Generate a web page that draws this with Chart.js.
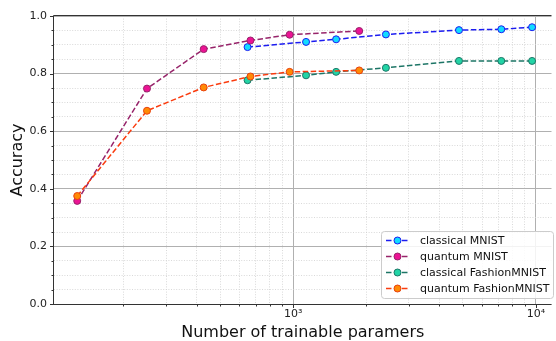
<!DOCTYPE html>
<html>
<head>
<meta charset="utf-8">
<script src="https://cdn.jsdelivr.net/npm/chart.js@4"></script>
<style>
  html, body { margin: 0; padding: 0; background: #fff; overflow: hidden; }
  canvas { display: block; }
</style>
</head>
<body>
<canvas id="accuracyChart" width="556" height="341"></canvas>
<script>
// values
const classicalParams = [649, 1130, 1503, 2410, 4820, 7200, 9640];
const classicalMnist = [0.892, 0.910, 0.919, 0.936, 0.951, 0.954, 0.961];
const classicalFashion = [0.777, 0.794, 0.806, 0.820, 0.844, 0.844, 0.844];

const quantumParams = [129, 250, 428, 667, 967, 1871];
const quantumMnist = [0.358, 0.748, 0.885, 0.915, 0.935, 0.948];
const quantumFashion = [0.375, 0.671, 0.752, 0.790, 0.806, 0.811];

const seriesNames = ['classical MNIST', 'quantum MNIST', 'classical FashionMNIST', 'quantum FashionMNIST'];

const xMajorTicks = [1000, 10000];
const xTickLabels = ['10³', '10⁴'];
const xMinorTicks = [200, 300, 400, 500, 600, 700, 800, 900, 2000, 3000, 4000, 5000, 6000, 7000, 8000, 9000];
const yMajorTicks = [0, 0.2, 0.4, 0.6, 0.8, 1.0];
const yTickLabels = ['0.0', '0.2', '0.4', '0.6', '0.8', '1.0'];
const yMinorTicks = [0.05, 0.1, 0.15, 0.25, 0.3, 0.35, 0.45, 0.5, 0.55, 0.65, 0.7, 0.75, 0.85, 0.9, 0.95];

const FONT = 'DejaVu Sans';
const DASH = [5.5, 2.5];

const isMajorX = v => xMajorTicks.some(t => Math.abs(t - v) < 1e-6);
const isMajorY = v => yMajorTicks.some(t => Math.abs(t - v) < 1e-6);

function series(label, xs, ys, line, fill, edge, order) {
    return {
        label: label,
        data: xs.map((x, i) => ({ x: x, y: ys[i] })),
        borderColor: line,
        borderWidth: 1.5,
        borderDash: DASH,
        pointBackgroundColor: fill,
        pointBorderColor: edge,
        pointRadius: 3.5,
        pointBorderWidth: 1,
        pointHoverRadius: 3.5,
        tension: 0,
        fill: false,
        order: order,
    };
}

// spines, tick marks and the boxed legend, matplotlib style
const framePlugin = {
    id: 'frame',
    beforeDatasetsDraw(chart) {
        const { ctx, chartArea: a, scales } = chart;
        ctx.save();
        ctx.strokeStyle = '#333';
        ctx.lineWidth = 1;
        ctx.beginPath();
        ctx.moveTo(a.left - 0.5, a.bottom);
        ctx.lineTo(a.left - 0.5, a.top - 0.5);
        ctx.lineTo(a.right, a.top - 0.5);
        ctx.moveTo(a.left - 1, a.bottom + 0.5);
        ctx.lineTo(a.right, a.bottom + 0.5);
        ctx.stroke();
        ctx.beginPath();
        scales.y.ticks.forEach(t => {
            const py = Math.round(scales.y.getPixelForValue(t.value)) + 0.5;
            const len = isMajorY(t.value) ? 3.5 : 2;
            ctx.moveTo(a.left - 0.5, py);
            ctx.lineTo(a.left - 0.5 - len, py);
        });
        scales.x.ticks.forEach(t => {
            const px = Math.round(scales.x.getPixelForValue(t.value)) + 0.5;
            const len = isMajorX(t.value) ? 3.5 : 2;
            ctx.moveTo(px, a.bottom + 0.5);
            ctx.lineTo(px, a.bottom + 0.5 + len);
        });
        ctx.stroke();
        ctx.restore();
    },
    afterDraw(chart) {
        const { ctx } = chart;
        const bx = 381, by = 231, bw = 172, bh = 67;
        ctx.save();
        ctx.beginPath();
        ctx.roundRect(bx + 0.5, by + 0.5, bw, bh, 3);
        ctx.fillStyle = 'rgba(255,255,255,0.85)';
        ctx.fill();
        ctx.strokeStyle = '#cccccc';
        ctx.lineWidth = 1;
        ctx.stroke();
        ctx.font = '11px "' + FONT + '"';
        ctx.textBaseline = 'middle';
        chart.data.datasets.forEach((ds, i) => {
            const y = by + 9.5 + i * 16;
            ctx.setLineDash(ds.borderDash);
            ctx.strokeStyle = ds.borderColor;
            ctx.lineWidth = ds.borderWidth;
            ctx.beginPath();
            ctx.moveTo(386, y);
            ctx.lineTo(409, y);
            ctx.stroke();
            ctx.setLineDash([]);
            ctx.beginPath();
            ctx.arc(397.5, y, ds.pointRadius, 0, Math.PI * 2);
            ctx.fillStyle = ds.pointBackgroundColor;
            ctx.fill();
            ctx.lineWidth = 1;
            ctx.strokeStyle = ds.pointBorderColor;
            ctx.stroke();
            ctx.fillStyle = '#111';
            ctx.fillText(ds.label, 420, y + 0.5);
        });
        ctx.restore();
    }
};

const ctx = document.getElementById('accuracyChart').getContext('2d');
new Chart(ctx, {
    type: 'line',
    data: {
        datasets: [
            series(seriesNames[0], classicalParams, classicalMnist, '#1c1cf0', '#12dcff', '#1c1cf0', 4),
            series(seriesNames[1], quantumParams, quantumMnist, '#97246a', '#ec1394', '#97246a', 3),
            series(seriesNames[2], classicalParams, classicalFashion, '#1d7566', '#22d4a6', '#1d7566', 2),
            series(seriesNames[3], quantumParams, quantumFashion, '#fa3c0f', '#ff8a05', '#e8400e', 1),
        ]
    },
    options: {
        responsive: false,
        animation: false,
        layout: { padding: { top: 16, left: 0, right: 0, bottom: 0 } },
        plugins: { legend: { display: false }, tooltip: { enabled: false } },
        scales: {
            x: {
                type: 'logarithmic',
                min: 103.5,
                max: 11590,
                afterBuildTicks: scale => {
                    scale.ticks = xMinorTicks.concat(xMajorTicks).sort((a, b) => a - b)
                        .map(v => ({ value: v, major: isMajorX(v) }));
                },
                afterFit: scale => { scale.height = 37; },
                grid: {
                    drawTicks: false,
                    color: c => (c.tick && isMajorX(c.tick.value)) ? '#b0b0b0' : '#cfcfcf',
                    lineWidth: c => (c.tick && isMajorX(c.tick.value)) ? 1 : 0.8,
                },
                border: {
                    display: false,
                    dash: c => (c.tick && !isMajorX(c.tick.value)) ? [1, 1.6] : [],
                },
                ticks: {
                    autoSkip: false,
                    maxRotation: 0,
                    padding: 4,
                    color: '#222',
                    font: { family: FONT, size: 11 },
                    callback: v => {
                        const i = xMajorTicks.findIndex(t => Math.abs(t - v) < 1e-6);
                        return i >= 0 ? xTickLabels[i] : '';
                    }
                },
                title: {
                    display: true,
                    text: 'Number of trainable paramers',
                    color: '#111',
                    font: { family: FONT, size: 16, lineHeight: 1 },
                    padding: { top: 0, bottom: 0 }
                }
            },
            y: {
                min: 0,
                max: 1,
                afterBuildTicks: scale => {
                    scale.ticks = yMinorTicks.concat(yMajorTicks).sort((a, b) => a - b)
                        .map(v => ({ value: v, major: isMajorY(v) }));
                },
                afterFit: scale => { scale.width = 54; },
                grid: {
                    drawTicks: false,
                    color: c => (c.tick && isMajorY(c.tick.value)) ? '#b0b0b0' : '#cfcfcf',
                    lineWidth: c => (c.tick && isMajorY(c.tick.value)) ? 1 : 0.8,
                },
                border: {
                    display: false,
                    dash: c => (c.tick && !isMajorY(c.tick.value)) ? [1, 1.6] : [],
                },
                ticks: {
                    autoSkip: false,
                    padding: 7,
                    color: '#222',
                    font: { family: FONT, size: 11 },
                    callback: v => {
                        const i = yMajorTicks.findIndex(t => Math.abs(t - v) < 1e-6);
                        return i >= 0 ? yTickLabels[i] : '';
                    }
                },
                title: {
                    display: true,
                    text: 'Accuracy',
                    color: '#111',
                    font: { family: FONT, size: 16, lineHeight: 1 },
                    padding: { top: 9.5, bottom: 0 }
                }
            }
        }
    },
    plugins: [framePlugin]
});
</script>
</body>
</html>
